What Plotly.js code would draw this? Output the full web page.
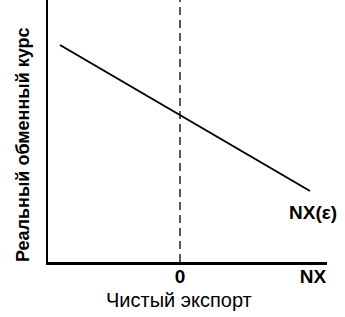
<!DOCTYPE html>
<html><head><meta charset="utf-8">
<script src="https://cdn.plot.ly/plotly-3.0.1.min.js"></script>
<style>html,body{margin:0;padding:0;background:#fff}#c{width:345px;height:317px}</style>
</head><body><div id="c"></div>
<script>
// Data
const nxX = [-1.2, 1.3];          // net exports (0 = balanced)
const rateY = [2.17, 0.71];       // real exchange rate
const curveLabel = "NX(ε)";
const xTickVals = [0, 1.33];
const xTickText = ["0", "NX"];
const xTitle = "Чистый экспорт";
const yTitle = "Реальный обменный курс";

const F = "Liberation Sans, Arial, sans-serif";
const trace = {
  x: nxX, y: rateY, mode: "lines", type: "scatter",
  line: {color: "#000", width: 2}, hoverinfo: "skip", showlegend: false
};
const layout = {
  width: 345, height: 317,
  margin: {l: 48, r: 18, t: 0, b: 55},
  paper_bgcolor: "#fff", plot_bgcolor: "#fff",
  xaxis: {
    range: [-1.32, 1.47], showgrid: false, zeroline: false,
    showline: true, linecolor: "#000", linewidth: 2.5,
    tickvals: xTickVals, ticktext: xTickText, ticks: "",
    ticklabelstandoff: -4,
    tickfont: {family: F, size: 19, color: "#000", weight: "bold"}
  },
  yaxis: {
    range: [0, 2.62], showgrid: false, zeroline: false,
    showline: true, linecolor: "#000", linewidth: 2.5,
    showticklabels: false, ticks: ""
  },
  shapes: [{
    type: "line", xref: "x", yref: "paper", x0: 0, x1: 0, y0: 0, y1: 1,
    line: {color: "#000", width: 1.3, dash: "8px,5px"}
  }],
  annotations: [
    {text: curveLabel, x: nxX[1], y: rateY[1], xref: "x", yref: "y",
     xanchor: "center", yanchor: "top", xshift: 3, yshift: -9, showarrow: false,
     font: {family: F, size: 19, color: "#000", weight: "bold"}},
    {text: xTitle, x: 0.47, y: -0.145, xref: "paper", yref: "paper",
     xanchor: "center", yanchor: "middle", showarrow: false,
     font: {family: F, size: 20, color: "#000"}},
    {text: yTitle, x: -0.09, y: 0.45, xref: "paper", yref: "paper", textangle: -90,
     xanchor: "center", yanchor: "middle", showarrow: false,
     font: {family: F, size: 18, color: "#000", weight: "bold"}}
  ]
};
Plotly.newPlot("c", [trace], layout, {staticPlot: true, displayModeBar: false});
</script></body></html>
